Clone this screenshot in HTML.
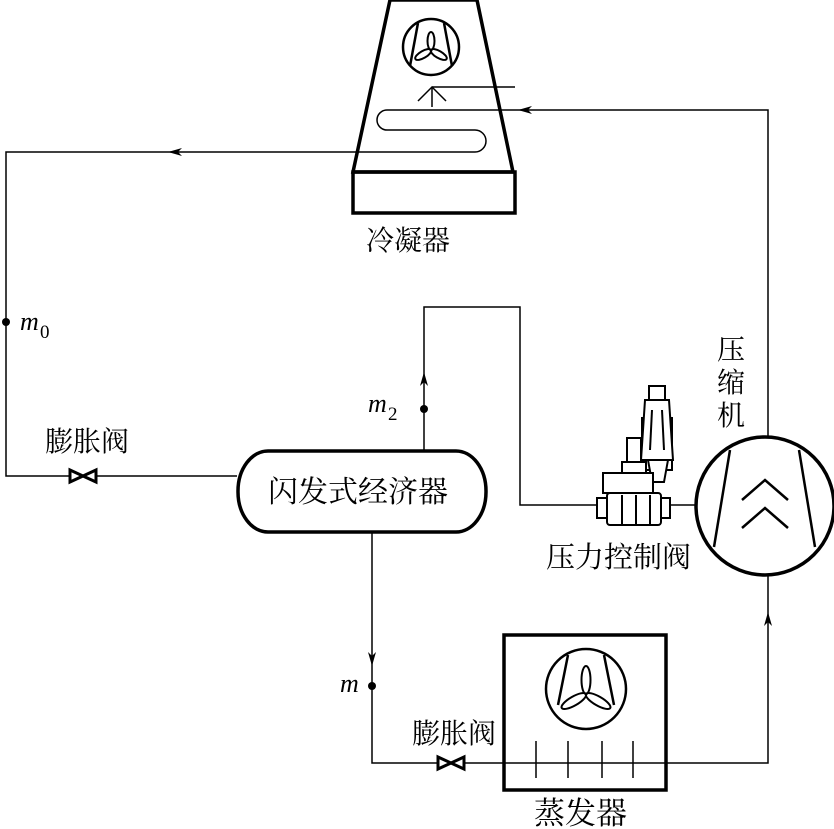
<!DOCTYPE html>
<html><head><meta charset="utf-8"><style>
body{margin:0;background:#fff}
svg{display:block}
text{font-family:"Liberation Serif","Noto Serif CJK SC",serif;fill:#000}
.t{font-family:"Liberation Serif",serif;font-style:italic}
</style></head><body>
<svg width="834" height="829" viewBox="0 0 834 829" xmlns="http://www.w3.org/2000/svg">
<g fill="none" stroke="#000" stroke-width="1.5">
<polyline points="353,152 6,152 6,476 237,476"/>
<polyline points="555,110 768,110 768,437"/>
<polyline points="372,532 372,763 504,763"/>
<polyline points="666,763 768,763 768,575"/>
<polyline points="424,450 424,307 520,307 520,505 597,505"/>
<line x1="668" y1="505" x2="697" y2="505"/>
<path d="M555,110 H387 a10,10 0 0 0 0,20 H475 a11,11 0 0 1 0,22 H353"/>
<line x1="432" y1="87" x2="515" y2="87"/>
<line x1="432" y1="87" x2="432" y2="107"/>
<polyline points="418,101 432,87 446,101"/>
</g>
<g fill="#000" stroke="none">
<path d="M168,152 l14,-4 l-4,4 l4,4 z"/>
<path d="M518,110 l14,-4 l-4,4 l4,4 z"/>
<path d="M424,372 l-4,14 l4,-4 l4,4 z"/>
<path d="M372,666 l-4,-14 l4,4 l4,-4 z"/>
<path d="M768,612 l-4,14 l4,-4 l4,4 z"/>
<circle cx="6" cy="322" r="4"/>
<circle cx="424" cy="409" r="4"/>
<circle cx="372" cy="686" r="4"/>
</g>
<g fill="none" stroke="#000" stroke-width="3.5">
<polygon points="390,0 477,0 513,172 353,172"/>
<rect x="353" y="172" width="162" height="41"/>
<rect x="238" y="451" width="248" height="81" rx="30" ry="40"/>
<rect x="504" y="635" width="162" height="155"/>
<circle cx="765" cy="506" r="69"/>
</g>
<g fill="none" stroke="#000" stroke-width="2.5">
<line x1="730" y1="450" x2="714" y2="547"/>
<line x1="799" y1="450" x2="815" y2="547"/>
<polyline points="742,500 765,480 788,500"/>
<polyline points="742,528 765,508 788,528"/>
<circle cx="431" cy="47" r="28"/>
<line x1="418" y1="23" x2="410" y2="66"/>
<line x1="444" y1="23" x2="452" y2="66"/>
<circle cx="586" cy="689" r="40"/>
<line x1="568" y1="655" x2="558" y2="705"/>
<line x1="604" y1="655" x2="614" y2="705"/>
</g>
<g fill="none" stroke="#000" stroke-width="2">
<ellipse cx="431" cy="41" rx="3.5" ry="9"/>
<ellipse cx="431" cy="41" rx="3.5" ry="9" transform="rotate(120 431 50)"/>
<ellipse cx="431" cy="41" rx="3.5" ry="9" transform="rotate(240 431 50)"/>
<ellipse cx="586" cy="680" rx="4.5" ry="14"/>
<ellipse cx="586" cy="680" rx="4.5" ry="14" transform="rotate(120 586 694)"/>
<ellipse cx="586" cy="680" rx="4.5" ry="14" transform="rotate(240 586 694)"/>
</g>
<g stroke="#000" stroke-width="1.5">
<line x1="504" y1="763" x2="666" y2="763"/>
<line x1="536" y1="741" x2="536" y2="778"/>
<line x1="568" y1="741" x2="568" y2="778"/>
<line x1="602" y1="741" x2="602" y2="778"/>
<line x1="633" y1="741" x2="633" y2="778"/>
</g>
<g fill="#fff" stroke="#000" stroke-width="3">
<path d="M70,470 L96,482 L96,470 L70,482 Z"/>
<path d="M438,757 L464,769 L464,757 L438,769 Z"/>
</g>
<g fill="#fff" stroke="#000" stroke-width="2">
<rect x="642" y="418" width="30" height="52"/>
<path d="M645,400 L669,400 L673,460 L641,460 Z"/>
<rect x="649" y="386" width="16" height="14"/>
<path d="M648,460 H668 L664,482 H652 Z"/>
<rect x="627" y="438" width="14" height="30"/>
<rect x="622" y="462" width="24" height="14"/>
<rect x="603" y="473" width="50" height="20"/>
<rect x="607" y="493" width="54" height="32" rx="3"/>
<rect x="597" y="498" width="10" height="20"/>
<rect x="661" y="498" width="9" height="20"/>
<line x1="622" y1="495" x2="622" y2="525"/>
<line x1="636" y1="495" x2="636" y2="525"/>
<line x1="650" y1="495" x2="650" y2="525"/>
<line x1="652" y1="410" x2="650" y2="450"/>
<line x1="662" y1="410" x2="664" y2="450"/>
</g>
<text x="366" y="250" font-size="28">冷凝器</text>
<text x="45" y="451" font-size="28">膨胀阀</text>
<text x="412" y="743" font-size="28">膨胀阀</text>
<text x="268" y="502" font-size="30">闪发式经济器</text>
<text x="546" y="567" font-size="29">压力控制阀</text>
<text x="534" y="824" font-size="31">蒸发器</text>
<text x="717" y="359" font-size="28">压</text>
<text x="717" y="392" font-size="28">缩</text>
<text x="717" y="425" font-size="28">机</text>
<text class="t" x="20" y="330" font-size="26">m</text><text x="40" y="338" font-size="19">0</text>
<text class="t" x="368" y="412" font-size="26">m</text><text x="388" y="420" font-size="19">2</text>
<text class="t" x="340" y="692" font-size="26">m</text>
</svg>
</body></html>
